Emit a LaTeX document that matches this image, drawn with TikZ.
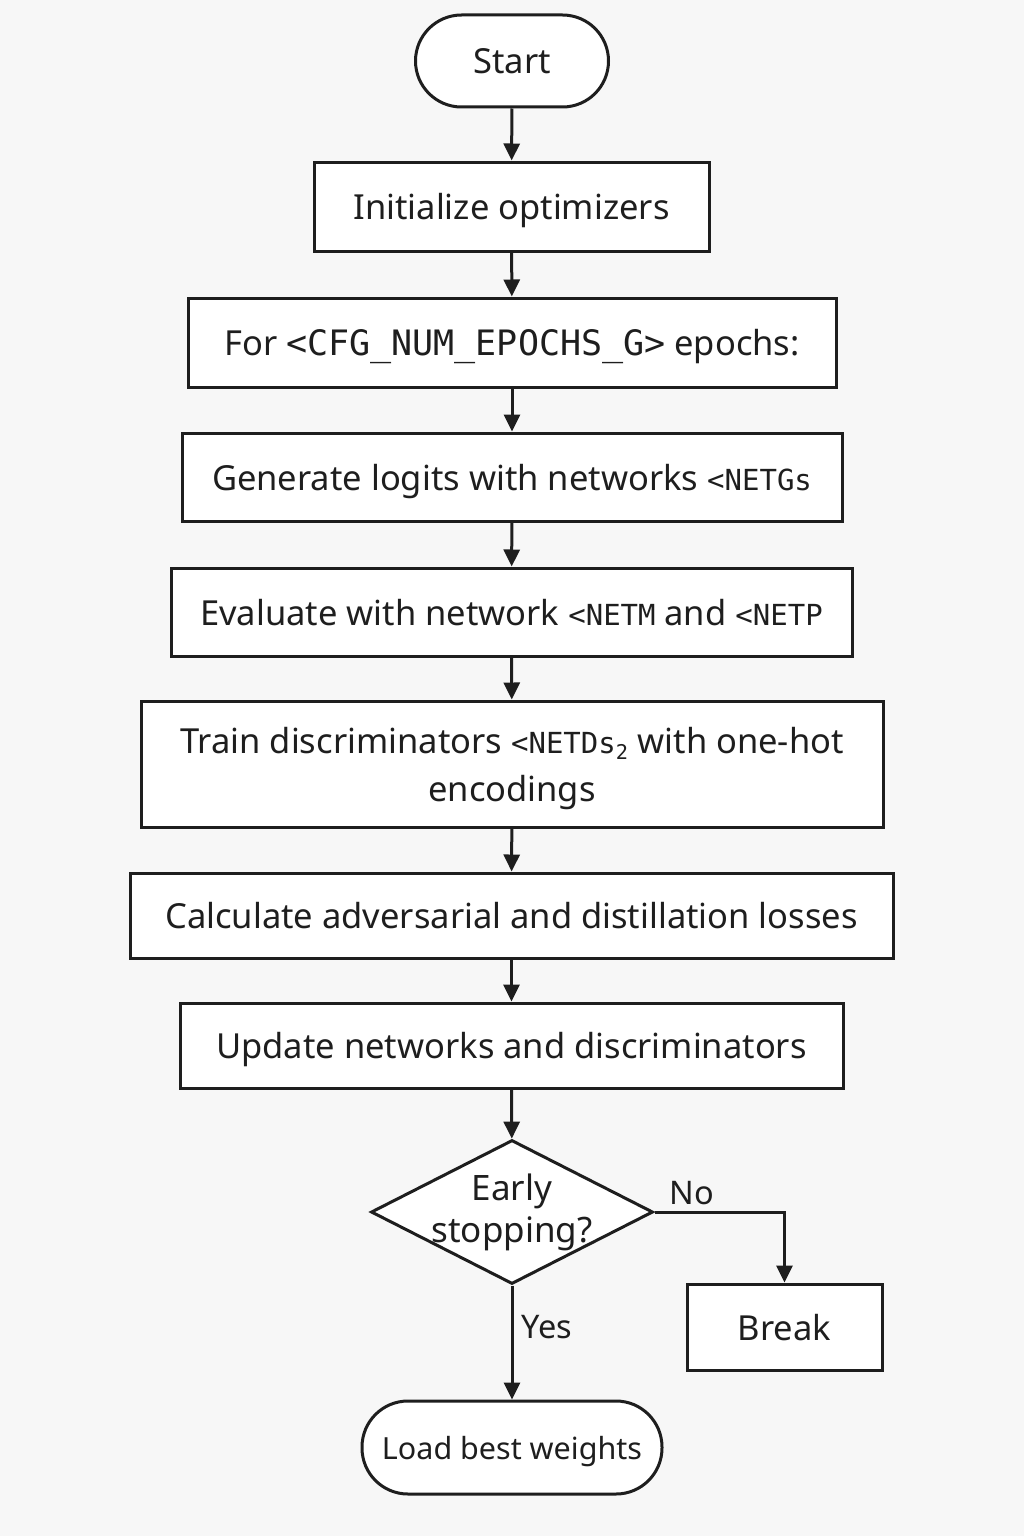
\documentclass[tikz,border=0pt]{standalone}
\usepackage{fontspec}
\setmainfont{Noto Sans}
\newfontfamily\monof{DejaVu Sans Mono}
\usetikzlibrary{shapes.geometric,arrows.meta}
\definecolor{bgc}{HTML}{F7F7F7}
\definecolor{ink}{HTML}{1E1E1E}
\newcommand{\mbig}[1]{{\monof\fontsize{35}{40}\selectfont #1}}
\newcommand{\msm}[1]{{\monof\fontsize{29}{40}\selectfont #1}}
\begin{document}
\begin{tikzpicture}[x=1pt,y=-1pt,
  every node/.style={font=\fontsize{34.5}{48}\selectfont, text=ink},
  box/.style={draw=ink, line width=3pt, fill=white, inner sep=0pt, align=center, text depth=0pt},
  term/.style={box, rounded corners=46pt},
  dec/.style={draw=ink, line width=3pt, fill=white, diamond, inner sep=-40pt, minimum width=282pt, minimum height=144pt, align=center, font=\fontsize{35}{42}\selectfont},
  conn/.style={draw=ink, line width=3pt, -{Triangle[length=17pt,width=16pt]}},
  lbl/.style={font=\fontsize{32.5}{40}\selectfont}]
\fill[bgc] (0,0) rectangle (1024,1536);
\useasboundingbox (0,0) rectangle (1024,1536);
\node[term, minimum width=193pt, minimum height=92pt] (start) at (512,61) {Start};
\node[box, minimum width=395pt, minimum height=89pt] (init) at (511.5,206.5) {Initialize optimizers};
\node[box, minimum width=648pt, minimum height=89pt] (loop) at (512,342.5) {For \mbig{<CFG\_NUM\_EPOCHS\_G>} epochs:};
\node[box, minimum width=660pt, minimum height=88pt] (gen) at (512,477) {Generate logits with networks \msm{<NETGs}};
\node[box, minimum width=681pt, minimum height=88pt] (eval) at (511.5,612) {Evaluate with network \msm{<NETM} and \msm{<NETP}};
\node[box, minimum width=742pt, minimum height=126pt] (train) at (512,764) {Train discriminators \msm{<NETDs\textsubscript{2}} with one-hot\\encodings};
\node[box, minimum width=763pt, minimum height=85pt] (calc) at (511.5,915.5) {Calculate adversarial and distillation losses};
\node[box, minimum width=663pt, minimum height=85pt] (upd) at (511.5,1045.5) {Update networks and discriminators};
\node[dec] (early) at (512,1212) {Early\\stopping?};
\node[box, minimum width=195pt, minimum height=86pt] (brk) at (784.5,1327) {Break};
\node[term, minimum width=300pt, minimum height=93pt, font=\fontsize{30.5}{40}\selectfont] (load) at (512,1447.5) {Load best weights};
\node[lbl] (no) at (692,1193) {No};
\node[lbl] (yes) at (547,1327) {Yes};
\draw[conn] (start) -- (init);
\draw[conn] (init) -- (loop);
\draw[conn] (loop) -- (gen);
\draw[conn] (gen) -- (eval);
\draw[conn] (eval) -- (train);
\draw[conn] (train) -- (calc);
\draw[conn] (calc) -- (upd);
\draw[conn] (upd) -- (early);
\draw[conn] (early.east) -| (brk.north);
\draw[conn] (early.south) -- (load);
\end{tikzpicture}
\end{document}
